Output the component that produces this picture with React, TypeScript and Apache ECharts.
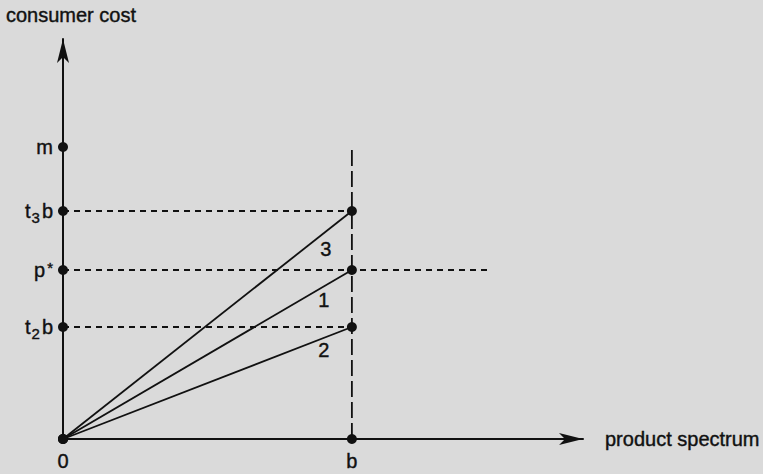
import React, { useEffect, useRef } from 'react';
import * as echarts from 'echarts';

// Horizontal axis: product spectrum, from 0 to b (b = 1)
const productTicks = [0, 1];
const productTickLabels = ['0', 'b'];

// Vertical axis: consumer cost levels marked on the axis
const costTicks = [1.12, 1.69, 2.28, 2.92];
const costTickLabels = ['{a|t}{sub|2}{a|b}', '{a|p}{sup|*}', '{a|t}{sub|3}{a|b}', '{a|m}'];

// Cost rays from the origin to (b, cost): names and end values
const rayNames = ['2', '1', '3'];
const rayEnds = [1.12, 1.69, 2.28];
const rayLabelOffsets: [number, number][] = [[-28, 23], [-28, 30], [-26, 38]];

// Guide extents
const bValue = 1;
const pStarValue = 1.69;
const pStarGuideEnd = 1.48;
const bGuideTop = 2.89;
const xMax = 1.8;
const yMax = 4.0;

const INK = '#111111';
const FONT = '"Liberation Sans", Arial, Helvetica, sans-serif';

// Slightly heavier glyphs, as in print
const ink = {
  color: INK,
  fontFamily: FONT,
  textBorderColor: INK,
  textBorderWidth: 0.4,
};

export default function App() {
  const ref = useRef<HTMLDivElement>(null);

  useEffect(() => {
    if (!ref.current) return;
    const chart = echarts.init(ref.current, null, { renderer: 'svg' });

    const dashed = (data: number[][], type: number[]) => ({
      type: 'line',
      data,
      symbol: 'none',
      silent: true,
      z: 1,
      lineStyle: { color: INK, width: 1.8, type },
    });

    const guides = [
      dashed([[0, rayEnds[2]], [bValue, rayEnds[2]]], [6, 5]),
      dashed([[0, pStarValue], [pStarGuideEnd, pStarValue]], [6, 5]),
      dashed([[0, rayEnds[0]], [bValue, rayEnds[0]]], [6, 5]),
      dashed([[bValue, 0], [bValue, bGuideTop]], [16, 5]),
    ];

    const rays = rayNames.map((name, i) => ({
      type: 'line',
      name,
      z: 3,
      symbol: 'circle',
      symbolSize: 10,
      itemStyle: { color: INK, opacity: 1 },
      lineStyle: { color: INK, width: 1.8 },
      data: [
        { value: [0, 0] },
        {
          value: [bValue, rayEnds[i]],
          label: {
            show: true,
            position: 'inside',
            offset: rayLabelOffsets[i],
            formatter: name,
            fontSize: 20,
            ...ink,
          },
        },
      ],
    }));

    const axisDots = {
      type: 'scatter',
      z: 4,
      symbol: 'circle',
      symbolSize: 10,
      itemStyle: { color: INK, opacity: 1 },
      data: [...costTicks.map((c) => [0, c]), [bValue, 0]],
    };

    chart.setOption({
      animation: false,
      backgroundColor: '#dadada',
      textStyle: { fontFamily: FONT },
      grid: {
        left: 63,
        right: 180,
        top: 39,
        bottom: 35,
        containLabel: false,
        outerBoundsMode: 'none',
      },
      xAxis: {
        type: 'value',
        min: 0,
        max: xMax,
        name: 'product spectrum',
        nameLocation: 'end',
        nameGap: 22,
        nameTextStyle: { fontSize: 20, verticalAlign: 'middle', ...ink },
        axisLine: {
          show: true,
          symbol: ['none', 'arrow'],
          symbolSize: [9, 24],
          lineStyle: { color: INK, width: 2 },
        },
        axisTick: { show: false },
        splitLine: { show: false },
        axisLabel: {
          customValues: productTicks,
          formatter: (v: number) => productTickLabels[productTicks.indexOf(v)] ?? '',
          margin: 12,
          fontSize: 20,
          ...ink,
        },
      },
      yAxis: {
        type: 'value',
        min: 0,
        max: yMax,
        name: 'consumer cost',
        nameLocation: 'end',
        nameGap: 14,
        nameTextStyle: { fontSize: 20, padding: [0, 0, 0, 16], ...ink },
        axisLine: {
          show: true,
          symbol: ['none', 'arrow'],
          symbolSize: [9, 24],
          lineStyle: { color: INK, width: 2 },
        },
        axisTick: { show: false },
        splitLine: { show: false },
        axisLabel: {
          customValues: costTicks,
          formatter: (v: number) => costTickLabels[costTicks.indexOf(v)] ?? '',
          margin: 10,
          fontSize: 20,
          ...ink,
          rich: {
            a: { fontSize: 20, lineHeight: 20, verticalAlign: 'top', ...ink },
            sub: {
              fontSize: 15,
              lineHeight: 15,
              verticalAlign: 'top',
              padding: [9, 2, 0, 1],
              ...ink,
            },
            sup: {
              fontSize: 15,
              lineHeight: 15,
              verticalAlign: 'top',
              padding: [0, 0, 0, 2],
              ...ink,
            },
          },
        },
      },
      series: [...guides, ...rays, axisDots],
    });

    return () => chart.dispose();
  }, []);

  return (
    <div
      ref={ref}
      style={{ position: 'absolute', left: 0, top: 0, width: 763, height: 474 }}
    />
  );
}
